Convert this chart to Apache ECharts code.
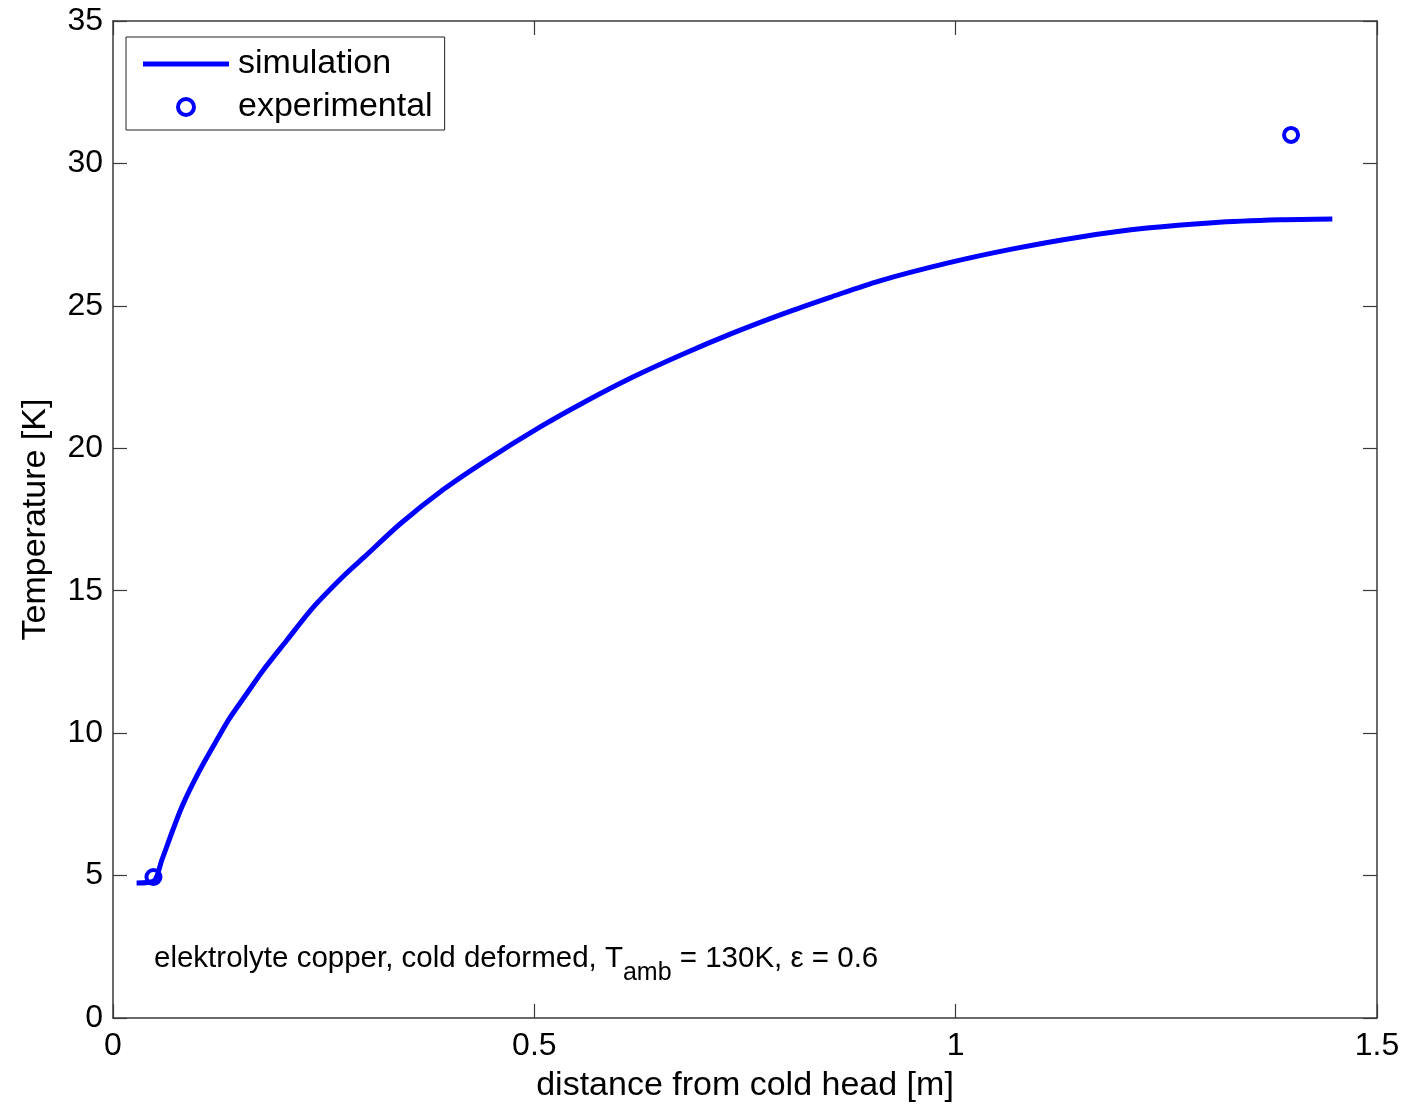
<!DOCTYPE html>
<html>
<head>
<meta charset="utf-8">
<script src="https://cdn.jsdelivr.net/npm/echarts@6/dist/echarts.min.js"></script>
<style>
  html, body { margin: 0; padding: 0; background: #fff; }
  #chart { width: 1419px; height: 1104px; }
</style>
</head>
<body>
<div id="chart"></div>
<script>
// Simulated temperature profile along the copper conductor
const simX = [0.028, 0.048, 0.058, 0.071, 0.083, 0.103, 0.124, 0.139, 0.159, 0.178, 0.206, 0.237, 0.273, 0.297, 0.341, 0.392, 0.439, 0.507, 0.558, 0.617, 0.676, 0.736, 0.795, 0.851, 0.910, 0.990, 1.068, 1.148, 1.227, 1.305, 1.385, 1.447];
const simT = [4.74, 4.80, 5.55, 6.60, 7.50, 8.70, 9.80, 10.55, 11.40, 12.20, 13.25, 14.40, 15.50, 16.15, 17.35, 18.55, 19.50, 20.75, 21.60, 22.50, 23.30, 24.05, 24.72, 25.30, 25.88, 26.50, 27.00, 27.42, 27.73, 27.92, 28.02, 28.05];

// Measured temperatures
const expX = [0.048, 1.398];
const expT = [4.95, 31.0];

const xTicks = [0, 0.5, 1, 1.5];
const yTicks = [0, 5, 10, 15, 20, 25, 30, 35];

const FONT = '"Liberation Sans", Arial, Helvetica, sans-serif';
const BLUE = '#0000ff';
const AXIS = '#3a3a3a';
const NONE = 'rgba(0,0,0,0)';

const chart = echarts.init(document.getElementById('chart'), null, { renderer: 'canvas' });

const frameAxis = (extra) => Object.assign({
  type: 'value',
  axisLine: { show: true, onZero: false, lineStyle: { color: AXIS, width: 1.5 } },
  axisTick: { show: true, inside: true, length: 14, lineStyle: { color: AXIS, width: 1.2 } },
  splitLine: { show: false },
  axisLabel: { show: false }
}, extra);

chart.setOption({
  animation: false,
  backgroundColor: '#fff',
  textStyle: { fontFamily: FONT },
  grid: { left: 113, right: 42, top: 21, bottom: 86, containLabel: false, outerBoundsMode: 'none' },
  legend: {
    orient: 'vertical',
    left: 126,
    top: 37,
    backgroundColor: '#fff',
    borderColor: '#222',
    borderWidth: 1,
    borderRadius: 0,
    padding: [10, 12, 6, 17],
    itemGap: 9,
    itemWidth: 86,
    itemHeight: 16,
    textStyle: { fontFamily: FONT, fontSize: 34, color: '#000', padding: [0, 0, 0, 4] },
    data: [
      { name: 'simulation', icon: 'path://M0,0 L86,0 L86,5 L0,5 Z', itemStyle: { color: BLUE } },
      { name: 'experimental', icon: 'circle', itemStyle: { color: NONE, borderColor: BLUE, borderWidth: 4 } }
    ]
  },
  xAxis: [
    frameAxis({
      position: 'bottom',
      min: xTicks[0], max: xTicks[xTicks.length - 1], interval: 0.5,
      name: 'distance from cold head [m]',
      nameLocation: 'middle',
      nameGap: 51,
      nameTextStyle: { fontFamily: FONT, fontSize: 34, color: '#000' },
      axisLabel: { show: true, margin: 12, fontFamily: FONT, fontSize: 32, color: '#000' }
    }),
    frameAxis({ position: 'top', min: xTicks[0], max: xTicks[xTicks.length - 1], interval: 0.5 })
  ],
  yAxis: [
    frameAxis({
      position: 'left',
      min: yTicks[0], max: yTicks[yTicks.length - 1], interval: 5,
      name: 'Temperature [K]',
      nameLocation: 'middle',
      nameGap: 60,
      nameTextStyle: { fontFamily: FONT, fontSize: 34, color: '#000' },
      axisLabel: { show: true, margin: 10, fontFamily: FONT, fontSize: 32, color: '#000' }
    }),
    frameAxis({ position: 'right', min: yTicks[0], max: yTicks[yTicks.length - 1], interval: 5 })
  ],
  series: [
    {
      name: 'simulation',
      type: 'line',
      xAxisIndex: 0, yAxisIndex: 0,
      data: simX.map((x, i) => [x, simT[i]]),
      symbol: 'none',
      smooth: 0.3,
      lineStyle: { color: BLUE, width: 5 },
      itemStyle: { color: BLUE },
      z: 3
    },
    {
      name: 'experimental',
      type: 'scatter',
      xAxisIndex: 0, yAxisIndex: 0,
      data: expX.map((x, i) => [x, expT[i]]),
      symbol: 'circle',
      symbolSize: 14,
      itemStyle: { color: NONE, borderColor: BLUE, borderWidth: 4, opacity: 1 },
      z: 4
    }
  ],
  graphic: [
    {
      type: 'text',
      left: 154,
      top: 944,
      style: {
        text: '{a|elektrolyte copper, cold deformed, T}{s|amb}{a| = 130K, ε = 0.6}',
        rich: {
          a: { fontFamily: FONT, fontSize: 29.5, lineHeight: 30, verticalAlign: 'top', fill: '#000' },
          s: { fontFamily: FONT, fontSize: 25, lineHeight: 30, verticalAlign: 'top', padding: [17, 0, 0, 0], fill: '#000' }
        }
      }
    }
  ]
});
</script>
</body>
</html>
